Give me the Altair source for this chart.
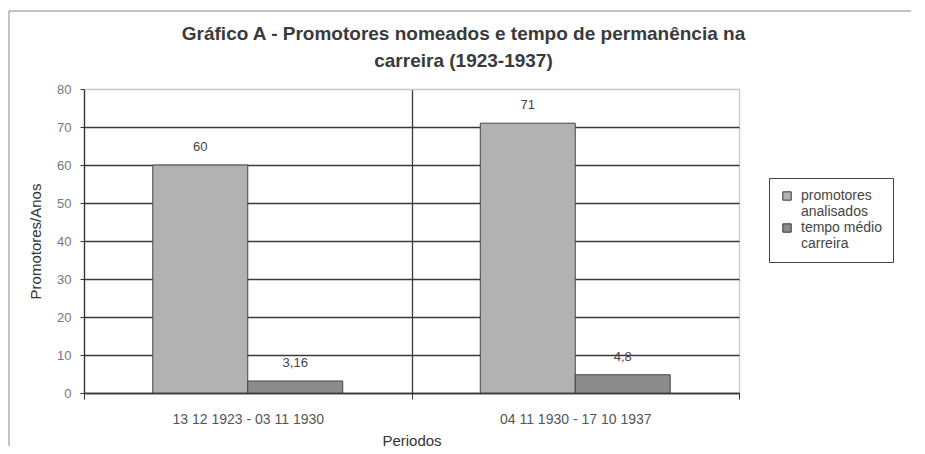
import altair as alt
import pandas as pd

periods = ["13 12 1923 - 03 11 1930", "04 11 1930 - 17 10 1937"]
series = ["promotores analisados", "tempo médio carreira"]
promotores = [60, 71]
tempo = [3.16, 4.8]
promotores_labels = ["60", "71"]
tempo_labels = ["3,16", "4,8"]
y_ticks = [0, 10, 20, 30, 40, 50, 60, 70, 80]

rows = []
for i, p in enumerate(periods):
    rows.append({"periodo": p, "serie": series[0], "valor": promotores[i], "rotulo": promotores_labels[i]})
    rows.append({"periodo": p, "serie": series[1], "valor": tempo[i], "rotulo": tempo_labels[i]})
df = pd.DataFrame(rows)

font = "Liberation Sans"
W, H = 655, 304

x_enc = alt.X(
    "periodo:N", sort=periods, title="Periodos",
    scale=alt.Scale(paddingInner=0, paddingOuter=0),
    axis=alt.Axis(
        labelAngle=0, tickBand="extent", grid=True,
        gridColor={"condition": {"test": "datum.index == 0", "value": "#3a3a3a"}, "value": "#c8c8c8"},
        gridWidth=1.3,
        domainColor="#333", domainWidth=1.3, tickColor="#333", tickSize=6,
        labelFont=font, labelFontSize=14, labelColor="#555", labelPadding=13,
        titleFont=font, titleFontSize=15, titleFontWeight="normal", titleColor="#333", titlePadding=7,
    ),
)
xoff = alt.XOffset("serie:N", sort=series, scale=alt.Scale(paddingInner=0, paddingOuter=0.724))
y_enc = alt.Y(
    "valor:Q", title="Promotores/Anos",
    scale=alt.Scale(domain=[0, 80], nice=False),
    axis=alt.Axis(
        values=y_ticks, grid=True,
        gridColor={"condition": {"test": "datum.value >= 80", "value": "#c8c8c8"}, "value": "#3a3a3a"},
        gridWidth=1.3,
        domainColor="#333", domainWidth=1.3, tickColor="#333", tickSize=4,
        labelFont=font, labelFontSize=13, labelColor="#777", labelPadding=9,
        titleFont=font, titleFontSize=15, titleFontWeight="normal", titleColor="#333", titlePadding=13,
    ),
)

bars = alt.Chart(df).mark_bar(stroke="#444", strokeWidth=1).encode(
    x=x_enc, xOffset=xoff, y=y_enc,
    color=alt.Color(
        "serie:N", sort=series,
        scale=alt.Scale(domain=series, range=["#b2b2b2", "#8c8c8c"]),
        legend=alt.Legend(
            title=None, orient="none", legendX=685, legendY=89, direction="vertical",
            strokeColor="#444", fillColor="white", padding=11,
            labelFont=font, labelFontSize=14, labelColor="#444", labelLimit=220, labelOffset=7,
            labelExpr="datum.label == 'promotores analisados' ? ['promotores','analisados'] : ['tempo médio','carreira']",
            symbolType="square", symbolSize=70, symbolStrokeColor="#333", symbolStrokeWidth=1,
            rowPadding=2,
        ),
    ),
)

labels = alt.Chart(df).mark_text(
    baseline="bottom", dy=-11, font=font, fontSize=13, color="#444"
).encode(x=x_enc, xOffset=xoff, y=y_enc, text="rotulo:N")

frame_df = pd.DataFrame({"k": [0]})
frame_top = alt.Chart(frame_df).mark_rule(color="#888", strokeWidth=1).encode(
    x=alt.value(-75), x2=alt.value(827), y=alt.value(-78)
)
frame_left = alt.Chart(frame_df).mark_rule(color="#888", strokeWidth=1).encode(
    x=alt.value(-75), y=alt.value(-78), y2=alt.value(357)
)

chart = alt.layer(bars, labels, frame_top, frame_left).properties(
    width=W, height=H,
    padding={"left": 0, "top": 2, "right": 0, "bottom": 0},
    title=alt.Title(
        ["Gráfico A - Promotores nomeados e tempo de permanência na", "carreira (1923-1937)"],
        font=font, fontSize=19, fontWeight="bold", color="#3a3a3a",
        anchor="middle", frame="group", dx=52, offset=-60, lineHeight=27,
    ),
).configure_view(stroke="#c8c8c8", fill="#ececec").configure(background="white")

chart.save("out.html", embed_options={"renderer": "svg", "actions": False})
